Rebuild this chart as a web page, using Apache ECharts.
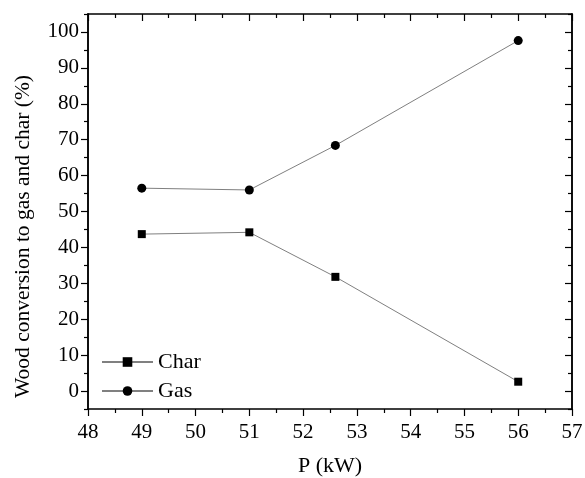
<!DOCTYPE html>
<html>
<head>
<meta charset="utf-8">
<script src="https://cdn.jsdelivr.net/npm/echarts@6/dist/echarts.min.js"></script>
<style>
  html, body { margin: 0; padding: 0; background: #fff; }
  #chart { width: 585px; height: 478px; }
</style>
</head>
<body>
<div id="chart"></div>
<script>
// values
const power = [49, 51, 52.6, 56];
const charValues = [43.7, 44.2, 31.8, 2.6];
const gasValues = [56.5, 56.0, 68.4, 97.6];
const yMajorTicks = [0, 10, 20, 30, 40, 50, 60, 70, 80, 90, 100];
const yMinorTicks = [-5, 5, 15, 25, 35, 45, 55, 65, 75, 85, 95, 105];

const font = 'Liberation Serif';
const black = '#000';

const chart = echarts.init(document.getElementById('chart'));

function xAxisOf(pos, showLabels) {
  return {
    type: 'value',
    position: pos,
    min: 48,
    max: 57,
    interval: 1,
    name: showLabels ? 'P (kW)' : '',
    nameLocation: 'middle',
    nameGap: 46,
    nameTextStyle: { fontFamily: font, fontSize: 22, color: black },
    axisLine: { show: true, onZero: false, lineStyle: { color: black, width: 1.5 } },
    axisTick: { show: true, inside: !showLabels, length: 7, lineStyle: { color: black, width: 1.2 } },
    minorTick: { show: true, splitNumber: 2, length: 4, lineStyle: { color: black, width: 1.2 } },
    axisLabel: { show: showLabels, margin: 13, fontFamily: font, fontSize: 21, color: black },
    splitLine: { show: false },
    minorSplitLine: { show: false },
  };
}

function yAxisOf(pos, showLabels, ticks, tickLen, showName) {
  return {
    type: 'value',
    position: pos,
    min: -5,
    max: 105,
    name: showName ? 'Wood conversion to gas and char (%)' : '',
    nameLocation: 'middle',
    nameGap: 54,
    nameTextStyle: { fontFamily: font, fontSize: 21.5, color: black, padding: [0, 50, 0, 0] },
    axisLine: { show: true, onZero: false, lineStyle: { color: black, width: 1.5 } },
    axisTick: {
      show: true,
      inside: pos === 'right',
      length: tickLen,
      customValues: ticks,
      lineStyle: { color: black, width: 1.2 },
    },
    axisLabel: {
      show: showLabels,
      customValues: ticks,
      margin: 9,
      fontFamily: font,
      fontSize: 21,
      color: black,
    },
    splitLine: { show: false },
  };
}

const option = {
  backgroundColor: '#fff',
  animation: false,
  grid: { left: 88, right: 13, top: 14, bottom: 69, outerBoundsMode: 'none' },
  legend: {
    orient: 'vertical',
    left: 101,
    top: 351,
    padding: 0,
    itemWidth: 51,
    itemHeight: 12,
    itemGap: 7,
    textStyle: { fontFamily: font, fontSize: 22, color: black },
    data: ['Char', 'Gas'],
  },
  xAxis: [xAxisOf('bottom', true), xAxisOf('top', false)],
  yAxis: [
    yAxisOf('left', true, yMajorTicks, 7, true),
    yAxisOf('left', false, yMinorTicks, 4, false),
    yAxisOf('right', false, yMajorTicks, 7, false),
    yAxisOf('right', false, yMinorTicks, 4, false),
  ],
  series: [
    {
      name: 'Char',
      type: 'line',
      data: power.map((p, i) => [p, charValues[i]]),
      symbol: 'rect',
      symbolSize: 8,
      itemStyle: { color: black },
      lineStyle: { color: '#808080', width: 1 },
    },
    {
      name: 'Gas',
      type: 'line',
      data: power.map((p, i) => [p, gasValues[i]]),
      symbol: 'circle',
      symbolSize: 9,
      itemStyle: { color: black },
      lineStyle: { color: '#808080', width: 1 },
    },
  ],
};

chart.setOption(option);
</script>
</body>
</html>
